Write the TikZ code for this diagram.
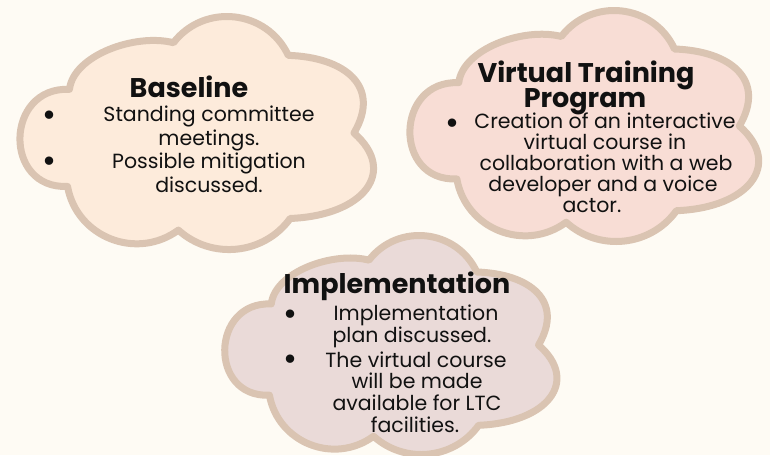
\documentclass[tikz,border=0pt]{standalone}
\usepackage{fontspec}
\setmainfont{Poppins}
\definecolor{bgc}{HTML}{FEFBF4}
\definecolor{edgec}{HTML}{DAC4B2}
\definecolor{fillA}{HTML}{FDEBDB}
\definecolor{fillB}{HTML}{F8DDD5}
\definecolor{fillC}{HTML}{EADAD8}
\definecolor{txt}{HTML}{111111}
\newcommand\mycloudpath{(54,75) .. controls (58,40) and (121,17) .. (160,27)
 .. controls (191.4,-14.1) and (255.3,-7.1) .. (277,40)
 .. controls (335,42) and (372,72) .. (344,120)
 .. controls (389,159.6) and (354,205) .. (279,208)
 .. controls (252.3,245.3) and (198.9,250.9) .. (165,220)
 .. controls (122.3,251.6) and (61.3,227.3) .. (52,175)
 .. controls (-14,178) and (-12,72) .. (54,75) -- cycle}
\tikzset{
  cloudline/.style={draw=edgec, line width=7pt, line join=round},
  titletext/.style={anchor=base, inner sep=0pt, text=txt, font=\fontsize{27}{30}\selectfont\bfseries},
  bodytext/.style={anchor=base, inner sep=0pt, text=txt, font=\fontsize{20.5}{22}\selectfont},
  bullettext/.style={anchor=base, inner sep=0pt, text=txt, font=\fontsize{34}{36}\selectfont}
}
\begin{document}
\begin{tikzpicture}[x=1pt,y=-1pt]
\useasboundingbox (0,0) rectangle (770,455);
\fill[bgc] (0,0) rectangle (770,455);
% clouds
\begin{scope}[shift={(16.5,16.5)}, xscale=0.981, yscale=0.971]
  \path[cloudline, fill=fillA] \mycloudpath;
\end{scope}
\begin{scope}[shift={(406.5,10.5)}, xscale=0.9676, yscale=0.9625]
  \path[cloudline, fill=fillB] \mycloudpath;
\end{scope}
\begin{scope}[shift={(221.5,235.5)}, xscale=0.9216, yscale=0.9125]
  \path[cloudline, fill=fillC] \mycloudpath;
\end{scope}
% Baseline
\node[titletext] (t1) at (189,97) {Baseline};
\node[bullettext] (b1a) at (50,126) {•};
\node[bodytext] (l1a) at (209,121) {Standing committee};
\node[bodytext] (l1b) at (209,145) {meetings.};
\node[bullettext] (b1b) at (50,172) {•};
\node[bodytext] (l1c) at (209,168) {Possible mitigation};
\node[bodytext] (l1d) at (209,192) {discussed.};
% Virtual Training Program
\node[titletext] (t2a) at (586,82) {Virtual Training};
\node[titletext] (t2b) at (585,107) {Program};
\node[bullettext] (b2a) at (452,134) {•};
\node[bodytext] (l2a) at (605,128) {Creation of an interactive};
\node[bodytext] (l2b) at (605,149.5) {virtual course in};
\node[bodytext] (l2c) at (606,170) {collaboration with a web};
\node[bodytext] (l2d) at (603,191) {developer and a voice};
\node[bodytext] (l2e) at (592,212) {actor.};
% Implementation
\node[titletext] (t3) at (397,293) {Implementation};
\node[bullettext] (b3a) at (290,325) {•};
\node[bodytext] (l3a) at (416,320) {Implementation};
\node[bodytext] (l3b) at (412,342) {plan discussed.};
\node[bullettext] (b3b) at (290,370) {•};
\node[bodytext] (l3c) at (416,367) {The virtual course};
\node[bodytext] (l3d) at (417,388) {will be made};
\node[bodytext] (l3e) at (417,410) {available for LTC};
\node[bodytext] (l3f) at (415,432) {facilities.};
\end{tikzpicture}
\end{document}
